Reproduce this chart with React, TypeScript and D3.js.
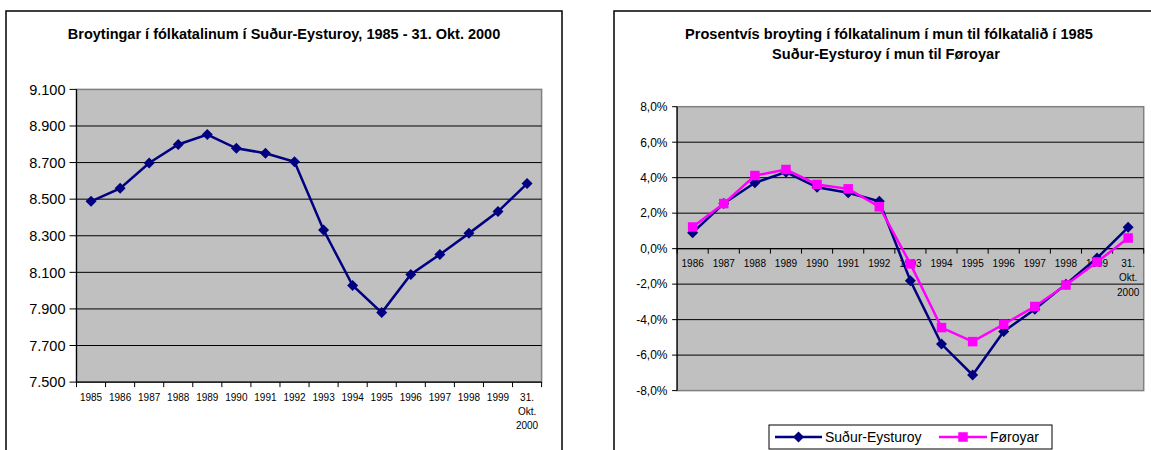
import React from 'react';
import * as d3 from 'd3';

// Fólkatal Suður-Eysturoy
const popYears = ["1985", "1986", "1987", "1988", "1989", "1990", "1991", "1992", "1993", "1994",
  "1995", "1996", "1997", "1998", "1999", "31. Okt. 2000"];
const popValues = [8488, 8559, 8698, 8799, 8853, 8778, 8751, 8704, 8331, 8028, 7880, 8088, 8198, 8313, 8432, 8585];
const popTicks = [7500, 7700, 7900, 8100, 8300, 8500, 8700, 8900, 9100];

// Prosentvís broyting (í mun til 1985)
const pctYears = ["1986", "1987", "1988", "1989", "1990", "1991", "1992", "1993", "1994",
  "1995", "1996", "1997", "1998", "1999", "31. Okt. 2000"];
const sudurPct = [0.9, 2.54, 3.71, 4.31, 3.46, 3.15, 2.67, -1.81, -5.38, -7.12, -4.67, -3.41, -2.0, -0.53, 1.2];
const foroyarPct = [1.22, 2.54, 4.12, 4.46, 3.62, 3.37, 2.36, -0.86, -4.45, -5.24, -4.26, -3.26, -2.05, -0.75, 0.6];
const pctTicks = [-8, -6, -4, -2, 0, 2, 4, 6, 8];

const seriesNames = ["Suður-Eysturoy", "Føroyar"];

const NAVY = "#000080";
const MAGENTA = "#FF00FF";
const PLOT_BG = "#C0C0C0";
const FONT = "'Liberation Sans', Arial, sans-serif";

const locale = d3.formatLocale({ decimal: ",", thousands: ".", grouping: [3], currency: ["", ""], minus: "-" });
const fmtPop = locale.format(",");
const fmtPct = (v: number) => locale.format(".1f")(v) + "%";

const Diamond = ({ x, y, r = 5, color }: { x: number; y: number; r?: number; color: string }) => (
  <path d={`M${x},${y - r}L${x + r},${y}L${x},${y + r}L${x - r},${y}Z`} fill={color} />
);
const Square = ({ x, y, s = 9, color }: { x: number; y: number; s?: number; color: string }) => (
  <rect x={x - s / 2} y={y - s / 2} width={s} height={s} fill={color} />
);

function PopChart() {
  const left = 76.5, right = 541.6, top = 89.4, bottom = 382.1;
  const x = d3.scaleBand().domain(popYears).range([left, right]).padding(0);
  const y = d3.scaleLinear().domain([7500, 9100]).range([bottom, top]);
  const cx = (d: string) => (x(d) ?? 0) + x.bandwidth() / 2;
  const line = d3.line<number>().x((_, i) => cx(popYears[i])).y(d => y(d));

  return (
    <g>
      <rect x={6} y={11} width={556} height={460} fill="#fff" stroke="#000" strokeWidth={1.5} />
      <text x={284} y={39} textAnchor="middle" fontSize={14.5} fontWeight="bold" fontFamily={FONT}>
        Broytingar í fólkatalinum í Suður-Eysturoy, 1985 - 31. Okt. 2000
      </text>
      <rect x={left} y={top} width={right - left} height={bottom - top} fill={PLOT_BG} stroke="#808080" strokeWidth={1.5} />
      {popTicks.slice(1, -1).map(t => (
        <line key={t} x1={left} x2={right} y1={y(t)} y2={y(t)} stroke="#000" strokeWidth={1} />
      ))}
      {/* y axis */}
      <line x1={left} x2={left} y1={top} y2={bottom} stroke="#000" strokeWidth={1.2} />
      {popTicks.map(t => (
        <g key={t}>
          <line x1={left - 7} x2={left} y1={y(t)} y2={y(t)} stroke="#000" />
          <text x={65.5} y={y(t)} dy="0.36em" textAnchor="end" fontSize={14.5} fontFamily={FONT}>{fmtPop(t)}</text>
        </g>
      ))}
      {/* x axis */}
      <line x1={left} x2={right} y1={bottom} y2={bottom} stroke="#000" strokeWidth={1.2} />
      {popYears.map(d => (
        <g key={d}>
          <line x1={x(d) ?? 0} x2={x(d) ?? 0} y1={bottom} y2={bottom + 5} stroke="#000" />
          {d.split(" ").map((s, j) => (
            <text key={j} x={cx(d)} y={bottom + 15 + j * 14} dy="0.35em" textAnchor="middle" fontSize={10} fontFamily={FONT}>{s}</text>
          ))}
        </g>
      ))}
      <line x1={right} x2={right} y1={bottom} y2={bottom + 5} stroke="#000" />
      <path d={line(popValues) ?? ""} fill="none" stroke={NAVY} strokeWidth={2.5} />
      {popValues.map((v, i) => <Diamond key={i} x={cx(popYears[i])} y={y(v)} r={5.5} color={NAVY} />)}
    </g>
  );
}

function PctChart() {
  const left = 677.1, right = 1143.7, top = 106.7, bottom = 390.6;
  const x = d3.scaleBand().domain(pctYears).range([left, right]).padding(0);
  const y = d3.scaleLinear().domain([-8, 8]).range([bottom, top]);
  const cx = (d: string) => (x(d) ?? 0) + x.bandwidth() / 2;
  const line = d3.line<number>().x((_, i) => cx(pctYears[i])).y(d => y(d));
  const y0 = y(0);
  const legX = 769, legY = 425;

  return (
    <g>
      <rect x={614} y={11} width={560} height={460} fill="#fff" stroke="#000" strokeWidth={1.5} />
      <text x={889} y={39} textAnchor="middle" fontSize={14.6} fontWeight="bold" fontFamily={FONT}>
        Prosentvís broyting í fólkatalinum í mun til fólkatalið í 1985
      </text>
      <text x={886} y={58.5} textAnchor="middle" fontSize={14.6} fontWeight="bold" fontFamily={FONT}>
        Suður-Eysturoy í mun til Føroyar
      </text>
      <rect x={left} y={top} width={right - left} height={bottom - top} fill={PLOT_BG} stroke="#808080" strokeWidth={1.5} />
      {pctTicks.slice(1, -1).map(t => (
        <line key={t} x1={left} x2={right} y1={y(t)} y2={y(t)} stroke="#000" strokeWidth={1} />
      ))}
      <line x1={left} x2={left} y1={top} y2={bottom} stroke="#000" strokeWidth={1.2} />
      {pctTicks.map(t => (
        <g key={t}>
          <line x1={left - 5} x2={left} y1={y(t)} y2={y(t)} stroke="#000" />
          <text x={667.5} y={y(t)} dy="0.36em" textAnchor="end" fontSize={12} fontFamily={FONT}>{fmtPct(t)}</text>
        </g>
      ))}
      <line x1={left} x2={right} y1={y0} y2={y0} stroke="#000" strokeWidth={1.2} />
      {pctYears.map(d => (
        <g key={d}>
          <line x1={x(d) ?? 0} x2={x(d) ?? 0} y1={y0} y2={y0 + 5} stroke="#000" />
          {d.split(" ").map((s, j) => (
            <text key={j} x={cx(d)} y={y0 + 14.5 + j * 14.5} dy="0.35em" textAnchor="middle" fontSize={10} fontFamily={FONT}>{s}</text>
          ))}
        </g>
      ))}
      <line x1={right} x2={right} y1={y0} y2={y0 + 5} stroke="#000" />
      <path d={line(sudurPct) ?? ""} fill="none" stroke={NAVY} strokeWidth={2.5} />
      {sudurPct.map((v, i) => <Diamond key={i} x={cx(pctYears[i])} y={y(v)} r={5.5} color={NAVY} />)}
      <path d={line(foroyarPct) ?? ""} fill="none" stroke={MAGENTA} strokeWidth={2.5} />
      {foroyarPct.map((v, i) => <Square key={i} x={cx(pctYears[i])} y={y(v)} s={9.5} color={MAGENTA} />)}

      {/* legend */}
      <rect x={legX} y={legY} width={283} height={24} fill="#fff" stroke="#000" strokeWidth={1} />
      <line x1={legX + 6} x2={legX + 53} y1={legY + 12} y2={legY + 12} stroke={NAVY} strokeWidth={2.5} />
      <Diamond x={legX + 29.5} y={legY + 12} r={5.5} color={NAVY} />
      <text x={legX + 56} y={legY + 12} dy="0.36em" fontSize={14} fontFamily={FONT}>{seriesNames[0]}</text>
      <line x1={legX + 170} x2={legX + 218} y1={legY + 12} y2={legY + 12} stroke={MAGENTA} strokeWidth={2.5} />
      <Square x={legX + 194} y={legY + 12} s={9.5} color={MAGENTA} />
      <text x={legX + 221} y={legY + 12} dy="0.36em" fontSize={14} fontFamily={FONT}>{seriesNames[1]}</text>
    </g>
  );
}

export default function App() {
  return (
    <svg width={1151} height={450} style={{ position: 'absolute', left: 0, top: 0, background: '#fff' }}>
      <PopChart />
      <PctChart />
    </svg>
  );
}
